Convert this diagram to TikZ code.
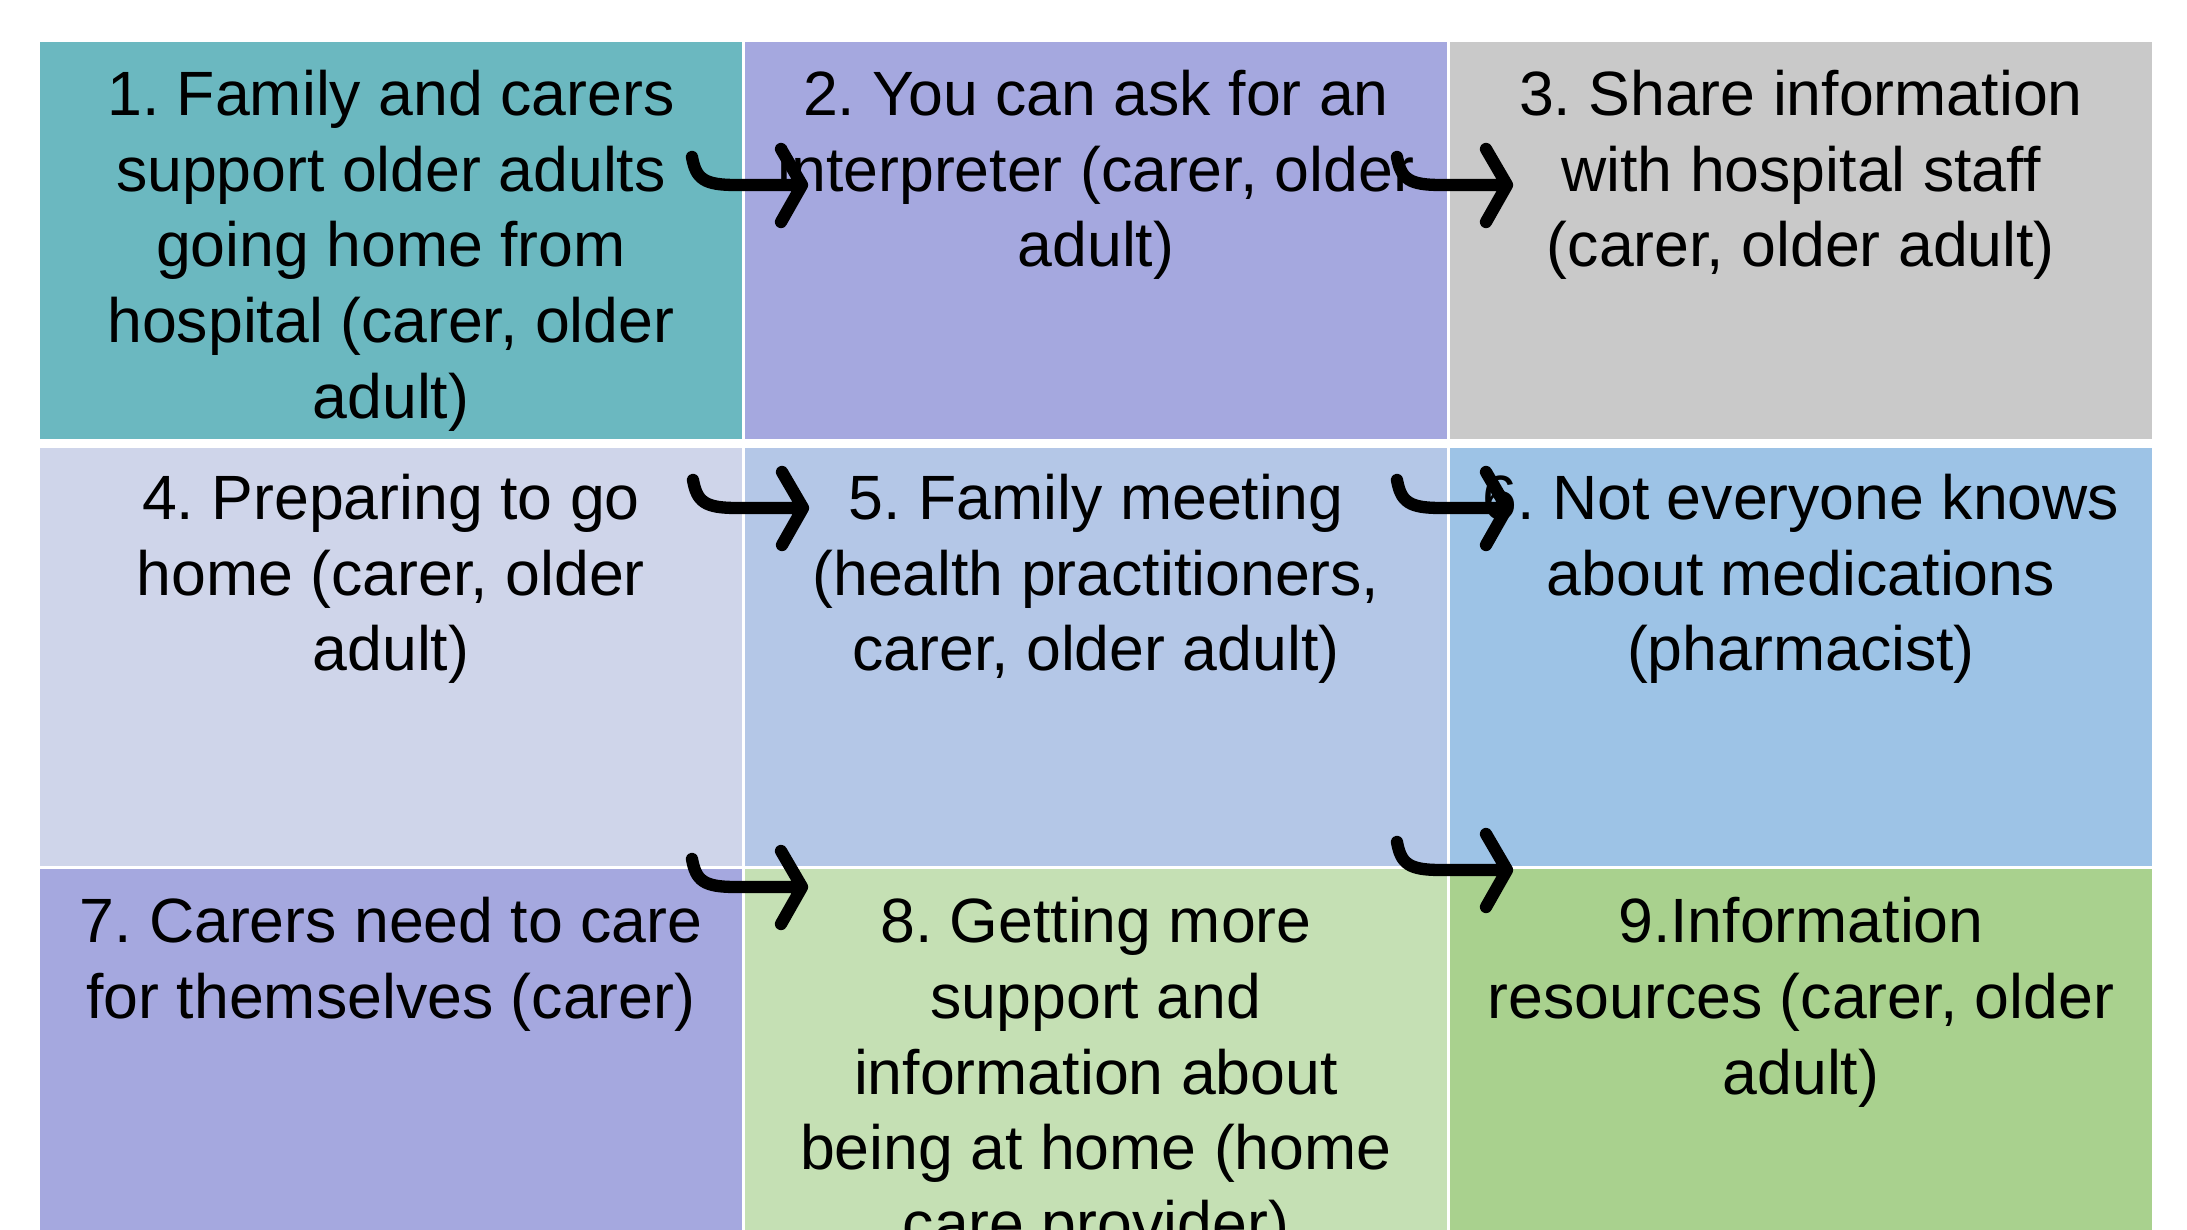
\documentclass[tikz,border=0pt]{standalone}
\usepackage{fontspec}
\setmainfont{Liberation Sans}
\usetikzlibrary{positioning}
\frenchspacing

\definecolor{tealCell}{HTML}{6BB8C0}
\definecolor{lavCell}{HTML}{A5A8DF}
\definecolor{greyCell}{HTML}{C9C9C9}
\definecolor{paleCell}{HTML}{CFD5EA}
\definecolor{skyCell}{HTML}{B4C7E7}
\definecolor{blueCell}{HTML}{9DC3E6}
\definecolor{mintCell}{HTML}{C5E0B4}
\definecolor{greenCell}{HTML}{A9D18E}

\tikzset{
	cell/.style={rectangle, inner sep=0pt, anchor=north west, minimum width=7.02cm},
	celltext/.style={anchor=north, inner sep=0pt, align=center, font=\fontsize{17.8}{21.6}\selectfont},
	hookline/.style={line width=3.5pt, line cap=round, line join=round, black}
}

\begin{document}
\begin{tikzpicture}[x=0.01cm, y=-0.01cm] % 1 unit = 1 px of the slide
		\newcommand{\hookArrow}[1]{% hook curve, shaft and open head ending at #1
			\draw[hookline] ([shift={(-110,-28)}]#1) .. controls +(4,22) and +(-32,0) .. ([shift={(-66,0)}]#1) -- (#1)
				([shift={(-21,-36)}]#1) -- (#1) -- ([shift={(-21,37)}]#1);
		}
		
		\useasboundingbox (0,0) rectangle (2187,1230);
		\clip (0,0) rectangle (2187,1230);
		\fill[white] (0,0) rectangle (2187,1230);		% background
		
		% top row
		\node[cell, fill=tealCell, minimum height=3.97cm] (c1) at (39,41) {};
		\node[cell, fill=lavCell, minimum height=3.97cm] (c2) at (744,41) {};
		\node[cell, fill=greyCell, minimum height=3.97cm] (c3) at (1449,41) {};
		
		% middle row
		\node[cell, fill=paleCell, minimum height=4.18cm] (c4) at (39,447) {};
		\node[cell, fill=skyCell, minimum height=4.18cm] (c5) at (744,447) {};
		\node[cell, fill=blueCell, minimum height=4.18cm] (c6) at (1449,447) {};
		
		% bottom row (runs off the slide)
		\node[cell, fill=lavCell, minimum height=4.4cm] (c7) at (39,868) {};
		\node[cell, fill=mintCell, minimum height=4.4cm] (c8) at (744,868) {};
		\node[cell, fill=greenCell, minimum height=4.4cm] (c9) at (1449,868) {};
		
		% texts
		\node[celltext] (t1) at ([yshift=-0.28cm]c1.north) {1. Family and carers\\support older adults\\going home from\\hospital (carer, older\\adult)};
		\node[celltext] (t2) at ([yshift=-0.28cm]c2.north) {2. You can ask for an\\interpreter (carer, older\\adult)};
		\node[celltext] (t3) at ([yshift=-0.28cm]c3.north) {3. Share information\\with hospital staff\\(carer, older adult)};
		\node[celltext] (t4) at ([yshift=-0.26cm]c4.north) {4. Preparing to go\\home (carer, older\\adult)};
		\node[celltext] (t5) at ([yshift=-0.26cm]c5.north) {5. Family meeting\\(health practitioners,\\carer, older adult)};
		\node[celltext] (t6) at ([yshift=-0.26cm]c6.north) {6. Not everyone knows\\about medications\\(pharmacist)};
		\node[celltext] (t7) at ([yshift=-0.28cm]c7.north) {7. Carers need to care\\for themselves (carer)};
		\node[celltext] (t8) at ([yshift=-0.28cm]c8.north) {8. Getting more\\support and\\information about\\being at home (home\\care provider)};
		\node[celltext] (t9) at ([yshift=-0.28cm]c9.north) {9.Information\\resources (carer, older\\adult)};
		
		% arrow tips
		\coordinate (a12) at ([shift={(58,144)}]c2.north west);
		\coordinate (a23) at ([shift={(58,144)}]c3.north west);
		\coordinate (a45) at ([shift={(59,61)}]c5.north west);
		\coordinate (a56) at ([shift={(58,61)}]c6.north west);
		\coordinate (a78) at ([shift={(58,19)}]c8.north west);
		\coordinate (a89) at ([shift={(58,2)}]c9.north west);
		
		\hookArrow{a12}
		\hookArrow{a23}
		\hookArrow{a45}
		\hookArrow{a56}
		\hookArrow{a78}
		\hookArrow{a89}
\end{tikzpicture}
\end{document}
